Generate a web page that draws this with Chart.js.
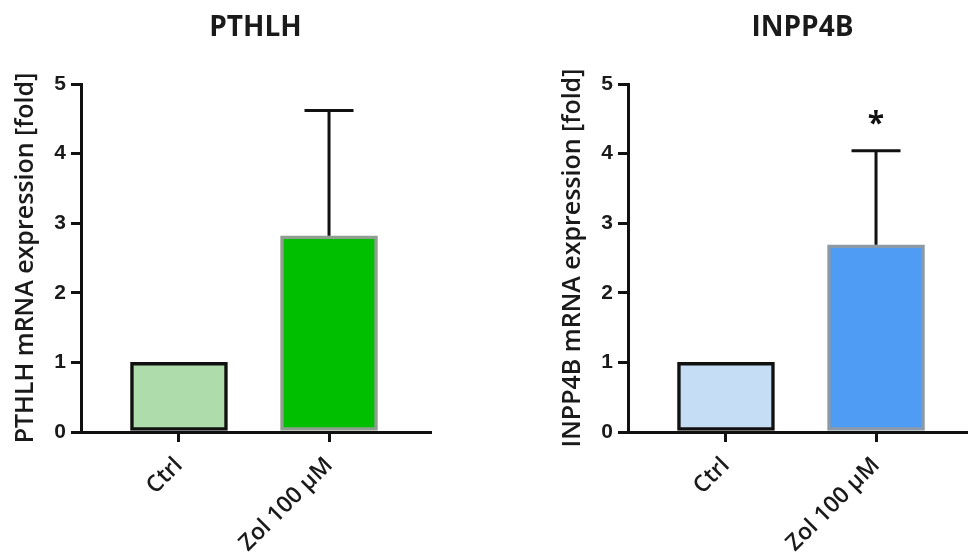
<!DOCTYPE html>
<html><head><meta charset="utf-8">
<script src="https://cdn.jsdelivr.net/npm/chart.js@4/dist/chart.umd.min.js"></script>
<style>
html,body{margin:0;padding:0;background:#fff;width:968px;height:553px;overflow:hidden;position:relative}
.box{position:absolute;top:0;width:547px;height:553px}
</style></head><body>
<div class="box" style="left:0"><canvas id="c1" width="547" height="553"></canvas></div>
<div class="box" style="left:547px"><canvas id="c2" width="547" height="553"></canvas></div>
<script>
// ---- data ----
const categories = ['Ctrl', 'Zol 100 µM'];
const yTickValues = [0, 1, 2, 3, 4, 5];
const pthlhMeans = [1.0, 2.82];
const pthlhErrors = [0, 1.80];
const pthlhMarks = ['', ''];
const inpp4bMeans = [1.0, 2.69];
const inpp4bErrors = [0, 1.35];
const inpp4bMarks = ['', '*'];

const errorBarPlugin = {
  id: 'errorBars',
  afterDatasetsDraw(chart, args, opts) {
    const ctx = chart.ctx;
    const meta = chart.getDatasetMeta(0);
    const yScale = chart.scales.y;
    ctx.save();
    meta.data.forEach((bar, i) => {
      const mean = opts.means[i], err = opts.errors[i];
      let topPx = bar.y;
      if (err > 0) {
        topPx = yScale.getPixelForValue(mean + err);
        ctx.strokeStyle = '#111';
        ctx.lineWidth = 3;
        ctx.beginPath();
        ctx.moveTo(bar.x, bar.y);
        ctx.lineTo(bar.x, topPx);
        ctx.moveTo(bar.x - 24.5, topPx);
        ctx.lineTo(bar.x + 24.5, topPx);
        ctx.stroke();
      }
      const mark = opts.marks[i];
      if (mark) {
        ctx.fillStyle = '#111';
        ctx.font = 'bold 30px "Open Sans"';
        ctx.textAlign = 'center';
        ctx.textBaseline = 'middle';
        ctx.fillText(mark, bar.x, topPx - 26);
      }
    });
    ctx.restore();
  }
};

function makeChart(id, title, yLabel, means, errors, marks, fills, borders) {
  return new Chart(document.getElementById(id), {
    type: 'bar',
    data: {
      datasets: [{
        data: means.map((v, i) => ({x: i, y: v})),
        backgroundColor: fills,
        borderColor: borders,
        borderWidth: 3.5,
        borderSkipped: false,
        barThickness: 97
      }]
    },
    plugins: [errorBarPlugin],
    options: {
      responsive: false,
      animation: false,
      layout: {padding: {left: 0, right: 117, top: 0, bottom: 0}},
      plugins: {
        legend: {display: false},
        tooltip: {enabled: false},
        title: {
          display: true, text: title, fullSize: false, align: 'center',
          color: '#1a1a1a',
          font: {family: 'Open Sans', size: 28, weight: 'bold', lineHeight: 1.2},
          padding: {top: 11, bottom: 39.4}
        },
        errorBars: {means: means, errors: errors, marks: marks}
      },
      scales: {
        x: {
          type: 'linear', min: -0.653, max: 1.673, z: 1, offset: false,
          afterBuildTicks: (s) => { s.ticks = categories.map((_, i) => ({value: i})); },
          afterFit: (s) => { s.height = 121; },
          grid: {offset: false, drawOnChartArea: false, drawTicks: true, tickLength: 10, color: '#111', lineWidth: 3},
          border: {display: true, color: '#111', width: 3},
          ticks: {
            autoSkip: false, minRotation: 45, maxRotation: 45, padding: 10,
            color: '#1a1a1a',
            font: {family: 'Open Sans', size: 23, weight: '600'},
            callback: (v) => categories[v]
          }
        },
        y: {
          min: 0, max: 5,
          afterBuildTicks: (s) => { s.ticks = yTickValues.map(v => ({value: v})); },
          afterFit: (s) => { s.width = 81; },
          grid: {drawOnChartArea: false, drawTicks: true, tickLength: 10, color: '#111', lineWidth: 3},
          border: {display: true, color: '#111', width: 3},
          ticks: {
            padding: 5, color: '#1a1a1a',
            font: {family: 'Liberation Sans', size: 21, weight: 'bold'}
          },
          title: {
            display: true, text: yLabel, color: '#1a1a1a',
            font: {family: 'Open Sans', size: 25, weight: '600'},
            padding: {top: 11, bottom: 0}
          }
        }
      }
    }
  });
}

makeChart('c1', 'PTHLH', 'PTHLH mRNA expression [fold]', pthlhMeans, pthlhErrors, pthlhMarks,
  ['#afdcab', '#00be00'], ['#111111', '#8f9f8f']);
makeChart('c2', 'INPP4B', 'INPP4B mRNA expression [fold]', inpp4bMeans, inpp4bErrors, inpp4bMarks,
  ['#c6ddf6', '#4f9cf5'], ['#111111', '#8c9aa8']);
</script>
</body></html>
